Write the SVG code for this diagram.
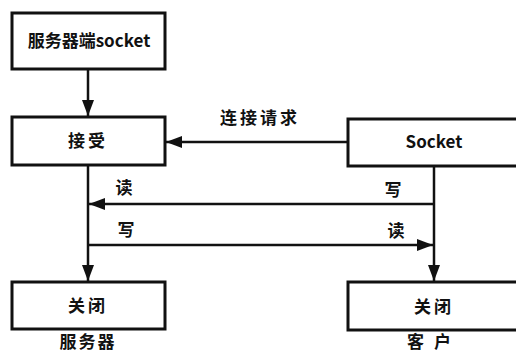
<svg xmlns="http://www.w3.org/2000/svg" width="516" height="355" viewBox="0 0 516 355">
<defs>
<marker id="ah" viewBox="0 0 16 12" refX="16" refY="6" markerWidth="16" markerHeight="12" markerUnits="userSpaceOnUse" orient="auto"><path d="M0,0 L16,6 L0,12 z" fill="#111"/></marker>
<style>
.box{fill:#fff;stroke:#111;stroke-width:3}
.ln{fill:none;stroke:#111;stroke-width:2.5}
text{font-family:"Noto Sans CJK SC","Liberation Sans",sans-serif;font-size:17px;fill:#111;font-weight:bold;text-anchor:middle}
</style>
</defs>
<rect width="516" height="355" fill="#fff"/>
<g id="connectors">
<line class="ln" x1="88" y1="69" x2="88" y2="116" marker-end="url(#ah)"/>
<line class="ln" x1="348" y1="142" x2="166" y2="142" marker-end="url(#ah)"/>
<line class="ln" x1="88" y1="166" x2="88" y2="281" marker-end="url(#ah)"/>
<line class="ln" x1="434" y1="167" x2="434" y2="281" marker-end="url(#ah)"/>
<line class="ln" x1="434" y1="204" x2="89" y2="204" marker-end="url(#ah)"/>
<line class="ln" x1="88" y1="245" x2="433" y2="245" marker-end="url(#ah)"/>
<text x="260" y="124" letter-spacing="3">连接请求</text>
<text x="124" y="194">读</text>
<text x="393" y="196">写</text>
<text x="126" y="236">写</text>
<text x="396" y="237">读</text>
</g>
<g id="server-socket"><rect class="box" x="12" y="13" width="153" height="56"/><text x="89" y="47" font-size="18">服务器端socket</text></g>
<g id="accept"><rect class="box" x="12" y="117" width="153" height="48"/><text x="88" y="147" letter-spacing="3">接受</text></g>
<g id="client-socket"><rect class="box" x="348" y="119" width="170" height="47"/><text x="434" y="148">Socket</text></g>
<g id="server-close"><rect class="box" x="12" y="282" width="153" height="47"/><text x="88" y="312" letter-spacing="3">关闭</text></g>
<g id="client-close"><rect class="box" x="348" y="282" width="170" height="48"/><text x="434" y="313" letter-spacing="3">关闭</text></g>
<g id="labels">
<text x="88" y="348" font-size="15" letter-spacing="2">服务器</text>
<text x="434" y="348" font-size="15" letter-spacing="10">客户</text>
</g>
</svg>
